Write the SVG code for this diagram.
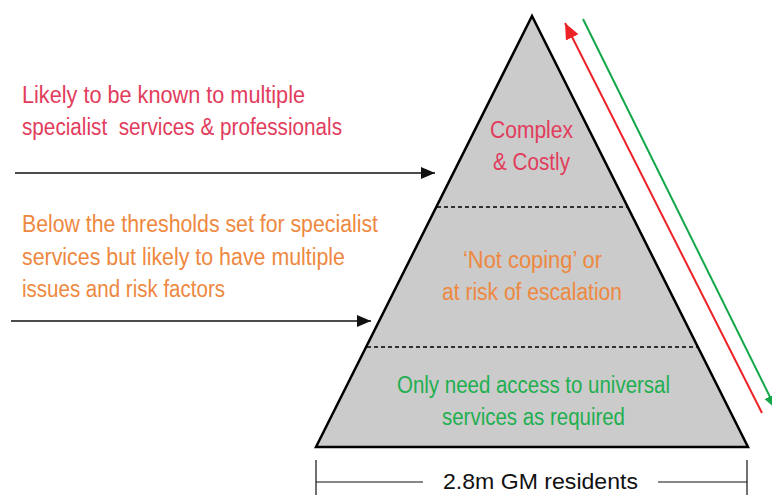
<svg xmlns="http://www.w3.org/2000/svg" width="772" height="495" viewBox="0 0 772 495">
<style>
text{font-family:"Liberation Sans",Arial,sans-serif;font-size:23.5px}
.red{fill:#E23C5C}
.org{fill:#EE8840}
.grn{fill:#1FAF50}
.blk{fill:#111;font-size:22px}
.dash{stroke:#000;stroke-width:1.3;stroke-dasharray:4 3;fill:none}
.arr{stroke:#111;stroke-width:1.5;fill:none}
.dim{stroke:#111;stroke-width:1.2;fill:none}
</style>
<defs>
<marker id="ah" markerUnits="userSpaceOnUse" markerWidth="14" markerHeight="14" viewBox="0 0 14 14" refX="14" refY="7" orient="auto">
<path d="M0,1 L14,7 L0,13 Z" fill="#111"/>
</marker>
<marker id="ahr" markerUnits="userSpaceOnUse" markerWidth="16" markerHeight="16" viewBox="0 0 16 16" refX="16" refY="8" orient="auto-start-reverse">
<path d="M0,1 L16,8 L0,15 Z" fill="#EE2328"/>
</marker>
<marker id="ahg" markerUnits="userSpaceOnUse" markerWidth="14" markerHeight="14" viewBox="0 0 14 14" refX="14" refY="7" orient="auto">
<path d="M0,1 L14,7 L0,13 Z" fill="#12A84A"/>
</marker>
</defs>
<g id="pyramid">
<polygon points="532,16 316,447 748,447" fill="#CBCBCB" stroke="#000" stroke-width="2.5" stroke-linejoin="miter"/>
<line class="dash" x1="437" y1="207" x2="627" y2="207"/>
<line class="dash" x1="367" y1="347" x2="697" y2="347"/>
</g>
<g id="tier-top">
<text class="red" x="490" y="138" textLength="83" lengthAdjust="spacingAndGlyphs">Complex</text>
<text class="red" x="493" y="170" textLength="77" lengthAdjust="spacingAndGlyphs">&amp; Costly</text>
</g>
<g id="tier-middle">
<text class="org" x="463" y="268" textLength="139" lengthAdjust="spacingAndGlyphs">‘Not coping’ or</text>
<text class="org" x="442" y="300" textLength="180" lengthAdjust="spacingAndGlyphs">at risk of escalation</text>
</g>
<g id="tier-bottom">
<text class="grn" x="397" y="393" textLength="273" lengthAdjust="spacingAndGlyphs">Only need access to universal</text>
<text class="grn" x="442" y="425" textLength="183" lengthAdjust="spacingAndGlyphs">services as required</text>
</g>
<g id="label-specialist">
<text class="red" x="22" y="103" textLength="283" lengthAdjust="spacingAndGlyphs">Likely to be known to multiple</text>
<text class="red" x="22" y="135" textLength="320" lengthAdjust="spacingAndGlyphs">specialist&#160; services &amp; professionals</text>
</g>
<g id="label-threshold">
<text class="org" x="22" y="232" textLength="356" lengthAdjust="spacingAndGlyphs">Below the thresholds set for specialist</text>
<text class="org" x="22" y="265" textLength="323" lengthAdjust="spacingAndGlyphs">services but likely to have multiple</text>
<text class="org" x="22" y="297" textLength="203" lengthAdjust="spacingAndGlyphs">issues and risk factors</text>
</g>
<g id="label-residents">
<text class="blk" x="443" y="489" textLength="195" lengthAdjust="spacingAndGlyphs">2.8m GM residents</text>
</g>
<g id="connectors">
<line class="arr" x1="15" y1="173" x2="435" y2="173" marker-end="url(#ah)"/>
<line class="arr" x1="11" y1="321" x2="371" y2="321" marker-end="url(#ah)"/>
<line x1="565" y1="23" x2="762" y2="413" stroke="#EE2328" stroke-width="2" marker-start="url(#ahr)"/>
<line x1="583" y1="19" x2="776" y2="409" stroke="#12A84A" stroke-width="2" marker-end="url(#ahg)"/>
<line class="dim" x1="316" y1="460" x2="316" y2="495"/>
<line class="dim" x1="747" y1="460" x2="747" y2="495"/>
<line class="dim" x1="316" y1="482" x2="423" y2="482"/>
<line class="dim" x1="658" y1="482" x2="747" y2="482"/>
</g>
</svg>
